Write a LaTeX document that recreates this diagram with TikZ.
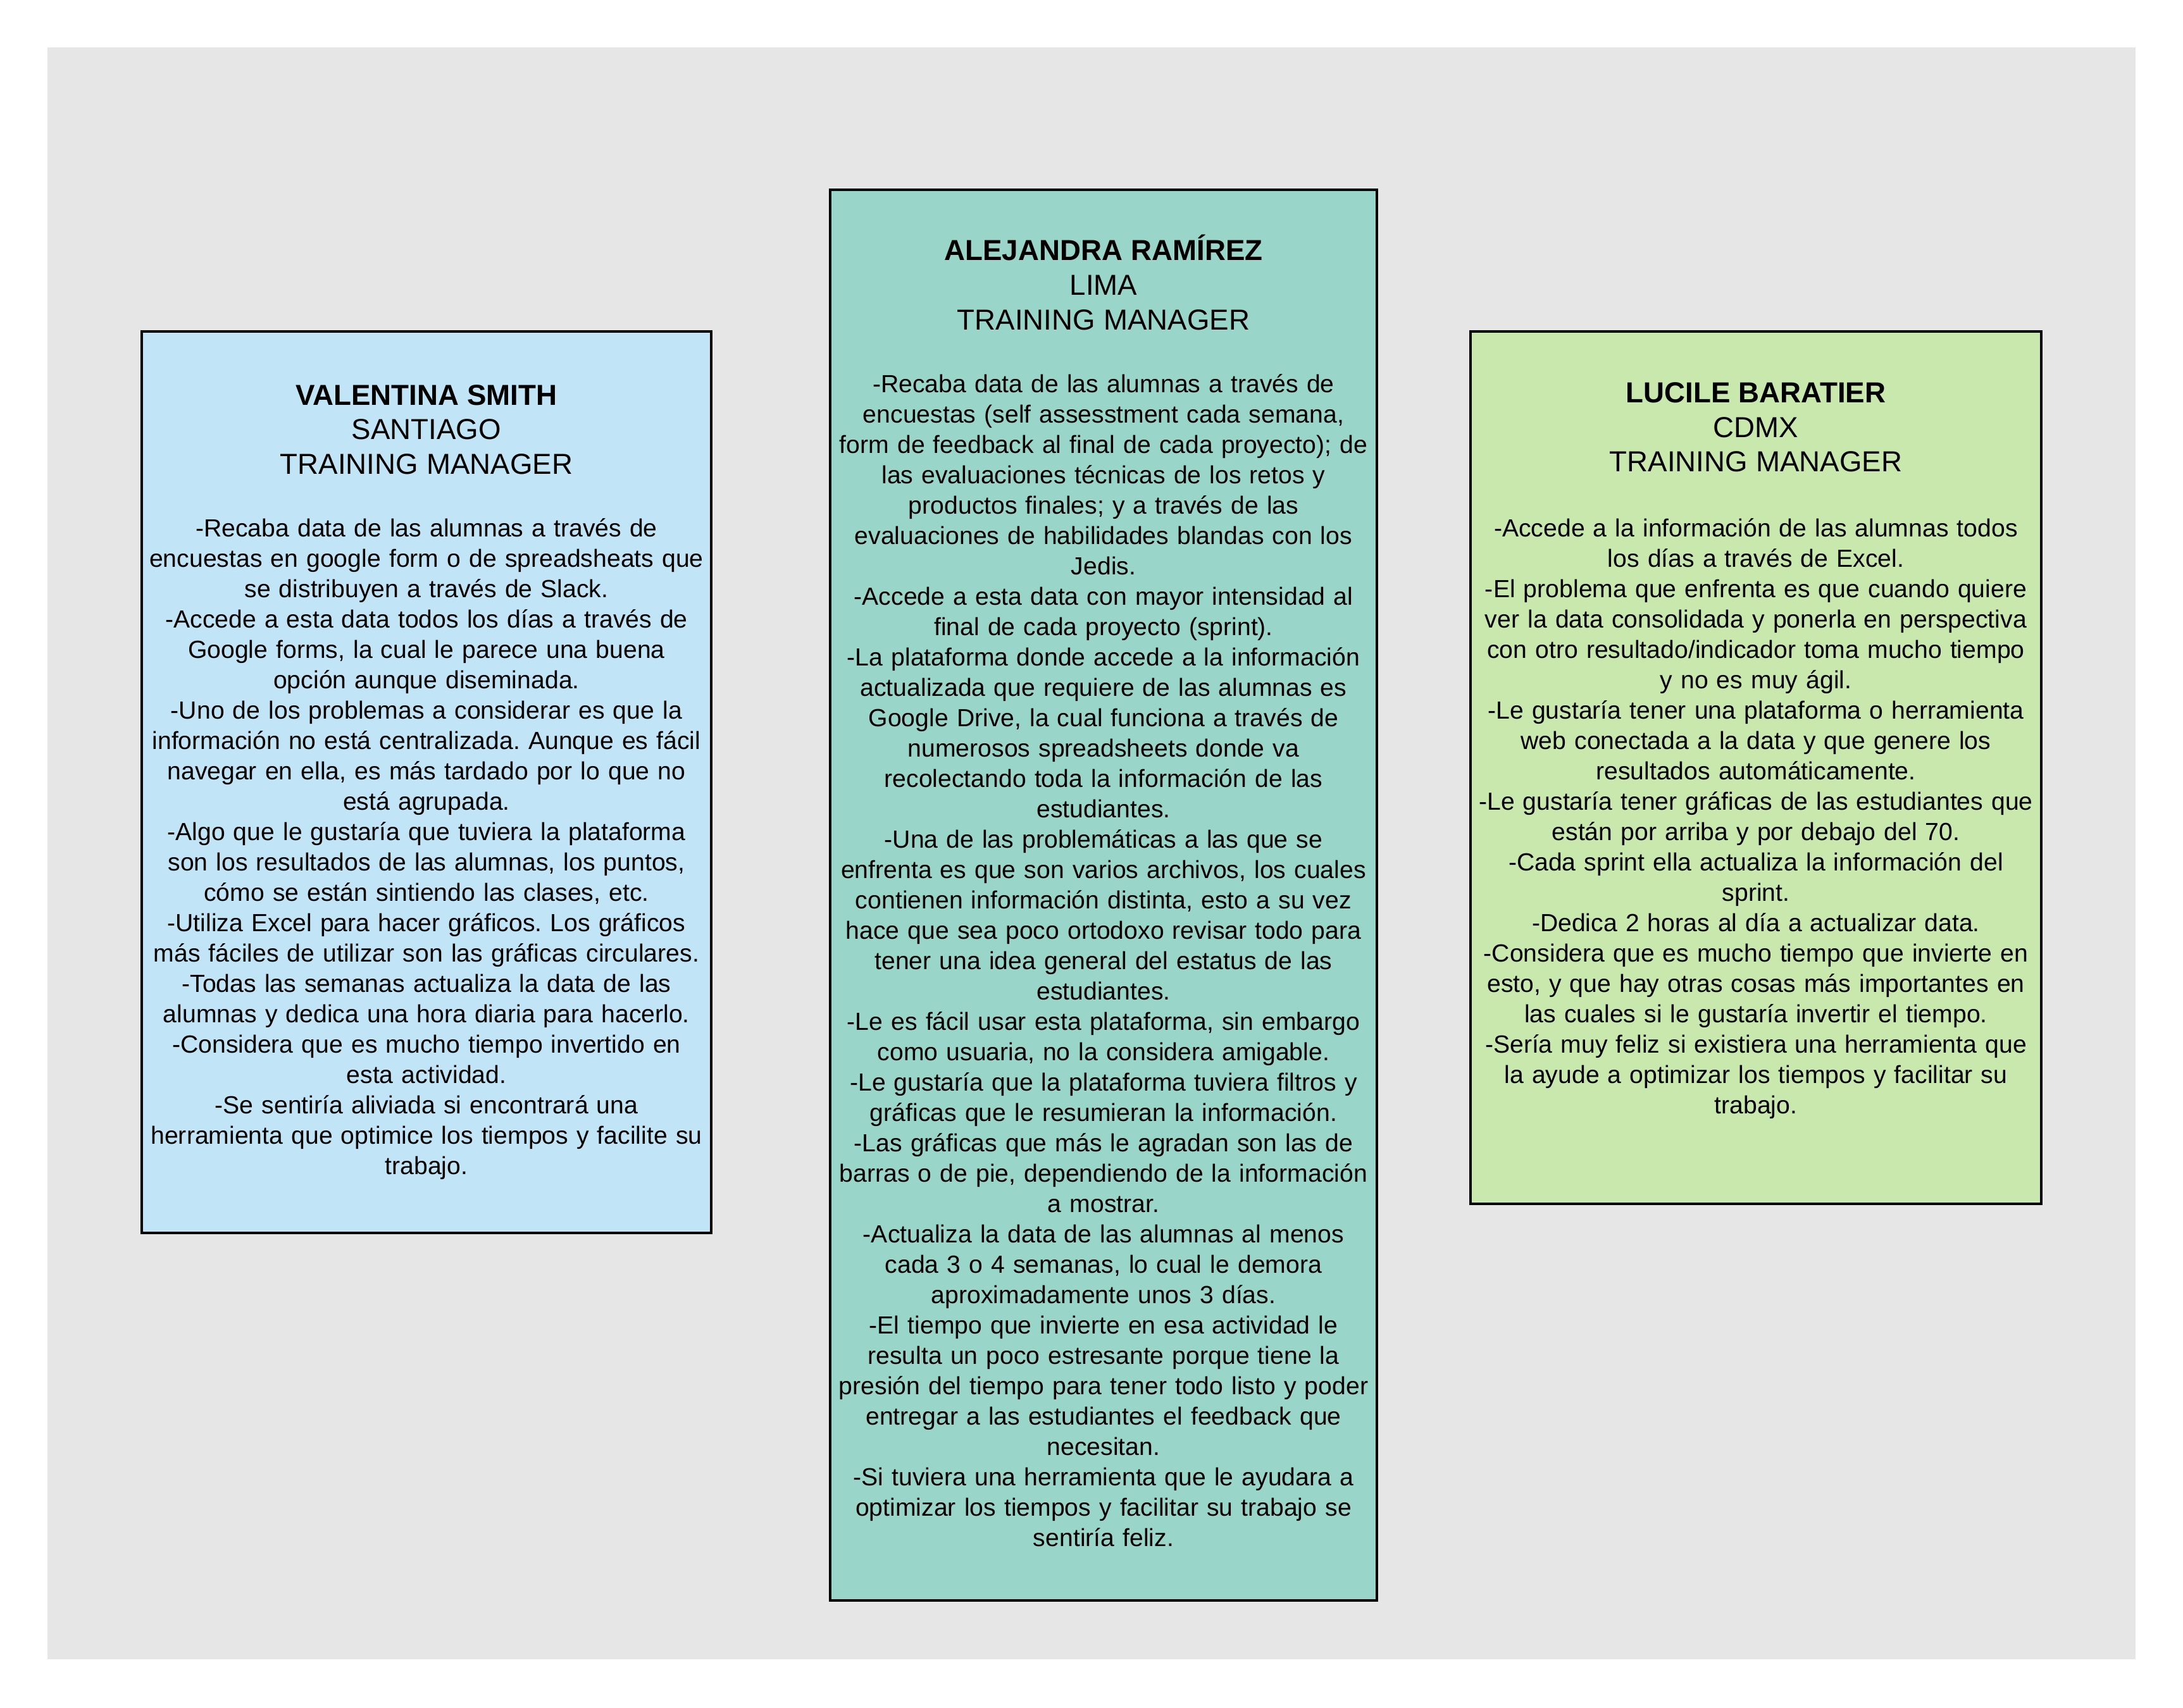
\documentclass[tikz,border=0pt]{standalone}
\usepackage{fontspec}
\setmainfont{Liberation Sans}
\usepackage{tikz}

\definecolor{backgray}{HTML}{E6E6E6}
\definecolor{cardblue}{HTML}{C1E4F6}
\definecolor{cardteal}{HTML}{9AD5CA}
\definecolor{cardgreen}{HTML}{C8E8AE}
\newcommand{\headfont}{\fontsize{13}{15.6}\selectfont}
\frenchspacing

\begin{document}
\begin{tikzpicture}[
    card/.style = {draw = black, line width = 1.3pt, inner xsep = 0pt, align = center,
                   font = \fontsize{11.15}{13.66}\selectfont}
  ]
    \fill [white] (0,0) rectangle (34.5,27);
    \useasboundingbox (0,0) rectangle (34.5,27);
    \fill [backgray] (0.75,0.77) rectangle (33.75,26.25);
    % Santiago
    \node [card, fill = cardblue, text width = 9cm, minimum height = 14.25cm]
      (valentina) at (6.74,14.635) {%
      {\headfont\textbf{VALENTINA SMITH}\\ SANTIAGO\\[1.9pt] TRAINING MANAGER}\\[14.5pt]
      -Recaba data de las alumnas a través de\\
      encuestas en google form o de spreadsheats que\\
      se distribuyen a través de Slack.\\
      -Accede a esta data todos los días a través de\\
      Google forms, la cual le parece una buena\\
      opción aunque diseminada.\\
      -Uno de los problemas a considerar es que la\\
      información no está centralizada. Aunque es fácil\\
      navegar en ella, es más tardado por lo que no\\
      está agrupada.\\
      -Algo que le gustaría que tuviera la plataforma\\
      son los resultados de las alumnas, los puntos,\\
      cómo se están sintiendo las clases, etc.\\
      -Utiliza Excel para hacer gráficos. Los gráficos\\
      más fáciles de utilizar son las gráficas circulares.\\
      -Todas las semanas actualiza la data de las\\
      alumnas y dedica una hora diaria para hacerlo.\\
      -Considera que es mucho tiempo invertido en\\
      esta actividad.\\
      -Se sentiría aliviada si encontrará una\\
      herramienta que optimice los tiempos y facilite su\\
      trabajo.};
    % Lima
    \node [card, fill = cardteal, text width = 8.64cm, minimum height = 22.3cm]
      (alejandra) at (17.44,12.85) {%
      {\headfont\textbf{ALEJANDRA RAMÍREZ}\\ LIMA\\[1.9pt] TRAINING MANAGER}\\[14.5pt]
      -Recaba data de las alumnas a través de\\
      encuestas (self assesstment cada semana,\\
      form de feedback al final de cada proyecto); de\\
      las evaluaciones técnicas de los retos y\\
      productos finales; y a través de las\\
      evaluaciones de habilidades blandas con los\\
      Jedis.\\
      -Accede a esta data con mayor intensidad al\\
      final de cada proyecto (sprint).\\
      -La plataforma donde accede a la información\\
      actualizada que requiere de las alumnas es\\
      Google Drive, la cual funciona a través de\\
      numerosos spreadsheets donde va\\
      recolectando toda la información de las\\
      estudiantes.\\
      -Una de las problemáticas a las que se\\
      enfrenta es que son varios archivos, los cuales\\
      contienen información distinta, esto a su vez\\
      hace que sea poco ortodoxo revisar todo para\\
      tener una idea general del estatus de las\\
      estudiantes.\\
      -Le es fácil usar esta plataforma, sin embargo\\
      como usuaria, no la considera amigable.\\
      -Le gustaría que la plataforma tuviera filtros y\\
      gráficas que le resumieran la información.\\
      -Las gráficas que más le agradan son las de\\
      barras o de pie, dependiendo de la información\\
      a mostrar.\\
      -Actualiza la data de las alumnas al menos\\
      cada 3 o 4 semanas, lo cual le demora\\
      aproximadamente unos 3 días.\\
      -El tiempo que invierte en esa actividad le\\
      resulta un poco estresante porque tiene la\\
      presión del tiempo para tener todo listo y poder\\
      entregar a las estudiantes el feedback que\\
      necesitan.\\
      -Si tuviera una herramienta que le ayudara a\\
      optimizar los tiempos y facilitar su trabajo se\\
      sentiría feliz.\\[-9.8pt]
      \mbox{}};
    % CDMX
    \node [card, fill = cardgreen, text width = 9.02cm, minimum height = 13.79cm]
      (lucile) at (27.75,14.865) {%
      {\headfont\textbf{LUCILE BARATIER}\\ CDMX\\[1.9pt] TRAINING MANAGER}\\[15.5pt]
      -Accede a la información de las alumnas todos\\
      los días a través de Excel.\\
      -El problema que enfrenta es que cuando quiere\\
      ver la data consolidada y ponerla en perspectiva\\
      con otro resultado/indicador toma mucho tiempo\\
      y no es muy ágil.\\
      -Le gustaría tener una plataforma o herramienta\\
      web conectada a la data y que genere los\\
      resultados automáticamente.\\
      -Le gustaría tener gráficas de las estudiantes que\\
      están por arriba y por debajo del 70.\\
      -Cada sprint ella actualiza la información del\\
      sprint.\\
      -Dedica 2 horas al día a actualizar data.\\
      -Considera que es mucho tiempo que invierte en\\
      esto, y que hay otras cosas más importantes en\\
      las cuales si le gustaría invertir el tiempo.\\
      -Sería muy feliz si existiera una herramienta que\\
      la ayude a optimizar los tiempos y facilitar su\\
      trabajo.\\[4pt]
      \mbox{}};
  \end{tikzpicture}
\end{document}
